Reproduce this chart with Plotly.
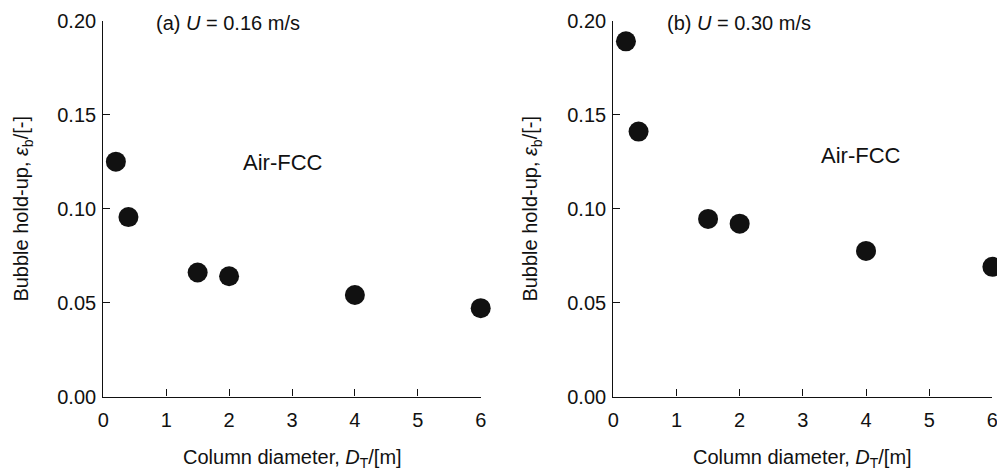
import plotly.graph_objects as go

# Column diameter D_T [m]
diameter_a = [0.2, 0.4, 1.5, 2.0, 4.0, 6.0]
diameter_b = [0.2, 0.4, 1.5, 2.0, 4.0, 6.0]

# Bubble hold-up, Air-FCC system
holdup_a = [0.125, 0.0955, 0.066, 0.064, 0.054, 0.047]   # U = 0.16 m/s
holdup_b = [0.189, 0.141, 0.0945, 0.092, 0.0775, 0.069]  # U = 0.30 m/s

x_ticks = [0, 1, 2, 3, 4, 5, 6]
y_ticks = [0.0, 0.05, 0.10, 0.15, 0.20]
y_ticktext = ["0.00", "0.05", "0.10", "0.15", "0.20"]

W, H = 997, 471
FONT = "Liberation Sans, Arial, Helvetica, sans-serif"
INK = "#111111"
FS = 20

fig = go.Figure()
fig.add_trace(go.Scatter(x=diameter_a, y=holdup_a, mode="markers",
                         marker=dict(size=20, color=INK, line=dict(width=0)),
                         cliponaxis=False, showlegend=False,
                         xaxis="x", yaxis="y"))
fig.add_trace(go.Scatter(x=diameter_b, y=holdup_b, mode="markers",
                         marker=dict(size=20, color=INK, line=dict(width=0)),
                         cliponaxis=False, showlegend=False,
                         xaxis="x2", yaxis="y2"))

# pixel geometry of the two panels
left_a, right_a = 103.3, 480.7
left_b, right_b = 613.3, 992.4
top_px, bottom_px = 20.7, 396.5
ydom = [(H - bottom_px) / H, (H - top_px) / H]

xcommon = dict(range=[0, 6], tickvals=x_ticks, ticks="inside", ticklen=7,
               tickwidth=1, tickcolor=INK, showline=True, linecolor=INK,
               linewidth=1.2, showgrid=False, zeroline=False, automargin=False,
               ticklabelstandoff=5, ticklabeloverflow="allow",
               tickfont=dict(family=FONT, size=FS, color=INK))
ycommon = dict(range=[0, 0.2], tickvals=y_ticks, ticktext=y_ticktext,
               ticks="inside", ticklen=7, tickwidth=1, tickcolor=INK,
               showline=True, linecolor=INK, linewidth=1.2, showgrid=False,
               zeroline=False, automargin=False, ticklabelstandoff=2,
               ticklabeloverflow="allow",
               tickfont=dict(family=FONT, size=FS, color=INK), domain=ydom)

fig.update_layout(
    width=W, height=H,
    margin=dict(l=0, r=0, t=0, b=0, pad=0, autoexpand=False),
    paper_bgcolor="white", plot_bgcolor="white",
    font=dict(family=FONT, size=FS, color=INK),
    xaxis=dict(domain=[left_a / W, right_a / W], anchor="y", **xcommon),
    yaxis=dict(anchor="x", **ycommon),
    xaxis2=dict(domain=[left_b / W, right_b / W], anchor="y2", **xcommon),
    yaxis2=dict(anchor="x2", **ycommon),
)

ytitle = "Bubble hold-up, <i>ε</i><sub>b</sub>/[-]"
xtitle = "Column diameter, <i>D</i><sub>T</sub>/[m]"
ymid = (H - (top_px + bottom_px) / 2) / H

annotations = [
    # axis titles
    dict(text=ytitle, x=23 / W, y=ymid, textangle=-90, size=FS),
    dict(text=ytitle, x=532 / W, y=ymid, textangle=-90, size=FS),
    dict(text=xtitle, x=(left_a + right_a) / 2 / W, y=(H - 458) / H, size=FS),
    dict(text=xtitle, x=(left_b + right_b) / 2 / W, y=(H - 458) / H, size=FS),
    # panel labels
    dict(text="(a) <i>U</i> = 0.16 m/s", x=154 / W, y=(H - 23) / H, xanchor="left", size=FS),
    dict(text="(b) <i>U</i> = 0.30 m/s", x=665 / W, y=(H - 23) / H, xanchor="left", size=FS),
    dict(text="Air-FCC", x=241 / W, y=(H - 162) / H, xanchor="left", size=22),
    dict(text="Air-FCC", x=819 / W, y=(H - 155) / H, xanchor="left", size=22),
]
for a in annotations:
    a.setdefault("xanchor", "center")
    size = a.pop("size")
    fig.add_annotation(xref="paper", yref="paper", showarrow=False,
                       yanchor="middle", font=dict(family=FONT, size=size, color=INK), **a)

fig.write_html("out.html")
